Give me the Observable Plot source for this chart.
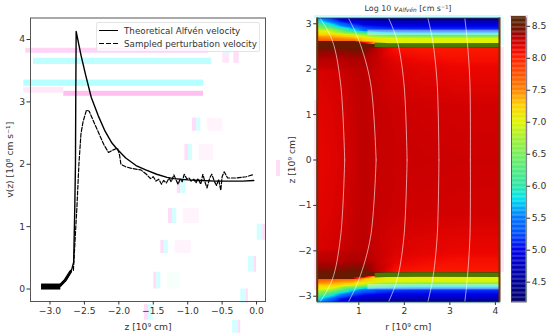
<!DOCTYPE html>
<html><head><meta charset="utf-8">
<script src="https://cdn.jsdelivr.net/npm/d3@7"></script>
<script src="https://cdn.jsdelivr.net/npm/@observablehq/plot@0.6"></script>
<style>
html,body{margin:0;padding:0;background:#fff;width:550px;height:333px;overflow:hidden}
body{position:relative;font-family:"DejaVu Sans",sans-serif;color:#333}
.pane{position:absolute;top:0}
.g{position:absolute}
#title{position:absolute;left:308px;width:200px;top:4px;text-align:center;font-size:7.9px;line-height:10px;white-space:nowrap}
#title sub{font-size:5.8px;vertical-align:-1px;line-height:0}
#legend{position:absolute;left:96px;top:22px;width:164px;height:30px;border:1px solid #e4e4e4;border-radius:2px;background:rgba(255,255,255,.75);font-size:8.75px;color:#333;box-sizing:border-box}
#legend div{position:absolute;left:27px;white-space:nowrap;line-height:10px}
#legend i{position:absolute;left:2px;width:19px;height:0;border-top:1.3px solid #000}
#legend i.d{border-top:none;height:1.3px;background:repeating-linear-gradient(90deg,#000 0 5px,transparent 5px 7px)}
</style></head><body>
<div class="g" style="left:500px;top:17px;width:4px;height:28px;background:#e0ffff"></div>
<div class="g" style="left:500px;top:47px;width:4px;height:225px;background:#ffe6f9"></div>
<div class="g" style="left:526px;top:17px;width:2px;height:138px;background:#ffd4f5"></div>
<div class="g" style="left:526px;top:155px;width:2px;height:147px;background:#d8ffff"></div>
<div class="g" style="left:510px;top:15px;width:18px;height:3px;background:#ffd4f5"></div>
<div class="g" style="left:314px;top:15px;width:187px;height:3px;background:#c4ffff"></div>
<div class="g" style="left:316px;top:301px;width:185px;height:3px;background:#d4ffff"></div>
<div class="g" style="left:314px;top:100px;width:3px;height:190px;background:#ffe6f9"></div>
<div class="g" style="left:276px;top:160px;width:4px;height:16px;background:#ffdcf7"></div>
<div id="left" class="pane" style="left:0"></div>
<div id="heat" class="pane" style="left:283px"></div>
<div id="bar" class="pane" style="left:500px"></div>
<div id="legend"><i style="top:7px"></i><div style="top:3px">Theoretical Alfvén velocity</div><i class="d" style="top:20px"></i><div style="top:15.5px">Sampled perturbation velocity</div></div>
<div id="title">Log 10 <em>v<sub>Alfvén</sub></em> [cm s⁻¹]</div>
<script>
// left panel: velocity profiles
const theoryZ = [-2.85,-2.75,-2.68,-2.656,-2.64,-2.63,-2.625,-2.62,-2.55,-2.48,-2.40,-2.30,-2.20,-2.10,-2.03,-1.90,-1.75,-1.61,-1.45,-1.30,-1.20,-1.00,-0.80,-0.60,-0.40,-0.20,-0.04];
const theoryV = [0.05,0.17,0.33,0.43,1.29,2.0,3.2,4.13,3.75,3.42,3.07,2.78,2.53,2.34,2.25,2.10,1.98,1.91,1.84,1.79,1.77,1.75,1.74,1.73,1.73,1.73,1.74];
const sampledZ = [-2.66,-2.64,-2.61,-2.58,-2.55,-2.52,-2.47,-2.43,-2.38,-2.30,-2.22,-2.15,-2.10,-2.02,-1.99,-1.97,-1.90,-1.80,-1.68,-1.60,-1.54,-1.5,-1.46,-1.42,-1.38,-1.35,-1.31,-1.27,-1.24,-1.2,-1.17,-1.14,-1.11,-1.08,-1.05,-1.01,-0.98,-0.95,-0.91,-0.88,-0.85,-0.81,-0.78,-0.75,-0.72,-0.68,-0.65,-0.61,-0.58,-0.55,-0.52,-0.5,-0.47,-0.42,-0.3,-0.15,-0.06];
const sampledV = [0.3,0.7,1.29,2.0,2.49,2.68,2.87,2.85,2.72,2.52,2.32,2.19,2.22,2.26,2.15,2.00,1.96,1.93,1.91,1.84,1.77,1.80,1.73,1.76,1.68,1.74,1.70,1.78,1.72,1.83,1.75,1.68,1.76,1.72,1.84,1.76,1.78,1.73,1.76,1.70,1.77,1.68,1.84,1.72,1.62,1.78,1.84,1.72,1.66,1.76,1.58,1.8,1.88,1.78,1.78,1.80,1.83];
const floorZ = [-3.13,-2.85], floorV = [0.04,0.04];
const rampZ = [-2.85,-2.78,-2.70], rampV = [0.06,0.14,0.28];
const zTicks = [-3,-2.5,-2,-1.5,-1,-0.5,0];
const vTicks = [0,1,2,3,4];
// faint ghost stripes visible on the left panel
const stripeZ1 = [-3.35,-3.24,-3.38,-2.80,-3.38,-0.49,-0.33,-0.46,-0.93,-0.87,-0.71,-1.04,-0.99,-0.83,-1.15,-1.10,-1.28,-1.22,-1.06,-1.39,-1.34,-1.18,-1.49,-1.45,-1.29,-1.63,-1.57,0.01,0.09,-0.12,-0.03,-0.23,-0.15,-0.35,-0.26];
const stripeZ2 = [-0.70,-0.65,-0.77,-0.77,-2.80,-0.39,-0.25,-0.36,-0.87,-0.81,-0.49,-0.99,-0.93,-0.62,-1.10,-1.03,-1.22,-1.16,-0.83,-1.34,-1.28,-0.95,-1.45,-1.39,-1.10,-1.57,-1.50,0.09,0.13,-0.03,0.00,-0.15,-0.12,-0.26,-0.23];
const stripeV1 = [3.78,3.60,3.25,3.09,3.14,3.62,3.62,3.78,2.53,2.53,2.53,2.06,2.06,2.06,1.53,1.53,1.05,1.05,1.05,0.57,0.57,0.57,0.00,0.00,0.00,-0.50,-0.50,0.78,0.78,0.27,0.27,-0.23,-0.23,-0.71,-0.71];
const stripeV2 = [3.86,3.70,3.35,3.17,3.23,3.82,3.82,3.86,2.74,2.74,2.74,2.32,2.32,2.32,1.77,1.77,1.29,1.29,1.29,0.78,0.78,0.78,0.27,0.27,0.27,-0.25,-0.25,1.04,1.04,0.52,0.52,0.00,0.00,-0.50,-0.50];
const stripeTint = ["#ffd4f6","#c0ffff","#b4ffff","#ffc0f0","#ffe8fa","#ffe6f9","#ffdff8","#d0ffff","#ffdcf7","#d4ffff","#fff4fc","#ffdcf7","#d4ffff","#fff4fc","#ffdcf7","#d4ffff","#ffdcf7","#d4ffff","#fff4fc","#ffdcf7","#d4ffff","#fff4fc","#ffdcf7","#d4ffff","#f6fffa","#ffdcf7","#d4ffff","#d4ffff","#ffdcf7","#d4ffff","#ffdcf7","#d4ffff","#ffdcf7","#d4ffff","#ffdcf7"];

// right panel: log10 Alfvén speed
const gridR = [0.086,0.35,0.6,0.85,1.1,1.4,1.8,2.4,3.2,4.09];
const gridZ = [3.127,3.05,2.95,2.85,2.75,2.68,2.63,2.615,2.57,2.555,2.47,2.46,2.2,2.05,1.95,1.2,0];
const gridV = [
 [5.6,5.2,4.9,4.7,4.5,4.4,4.35,4.3,4.3,4.3],
 [5.9,5.5,5.1,4.9,4.8,4.75,4.7,4.7,4.7,4.7],
 [6.5,6.1,5.6,5.3,5.1,5.05,5.0,5.0,5.0,5.0],
 [7.0,6.9,6.4,5.9,5.5,5.3,5.25,5.2,5.2,5.2],
 [7.3,7.3,7.2,7.1,6.8,6.5,6.3,6.2,6.2,6.2],
 [7.55,7.5,7.45,7.4,7.2,7.05,6.98,6.95,6.95,6.95],
 [7.7,7.7,7.6,7.6,7.3,7.1,7.02,7.0,7.0,7.0],
 [8.5,8.5,8.5,8.5,7.4,7.1,7.02,7.0,7.0,7.0],
 [8.5,8.5,8.5,8.5,8.5,7.1,7.0,7.0,7.0,7.0],
 [8.5,8.5,8.5,8.5,8.5,8.5,8.5,8.5,8.5,8.5],
 [8.48,8.48,8.48,8.5,8.5,8.5,8.5,8.5,8.5,8.5],
 [8.44,8.44,8.44,8.46,8.46,8.3,8.06,8.03,8.03,8.03],
 [8.3,8.3,8.3,8.33,8.33,8.27,8.16,8.11,8.08,8.08],
 [8.27,8.28,8.29,8.31,8.32,8.27,8.19,8.16,8.13,8.13],
 [8.2,8.22,8.25,8.28,8.3,8.26,8.2,8.17,8.14,8.14],
 [8.17,8.19,8.22,8.26,8.29,8.27,8.25,8.24,8.23,8.23],
 [8.15,8.17,8.2,8.25,8.29,8.27,8.26,8.26,8.25,8.25]
];
const bandR = [1.35,1.6,2.4,4.09], bandZ = [2.54,2.525,2.52,2.525];
const paleR = [1.2,4.09], paleZ = [2.74,2.86];
const fieldZ = [3.11,2.64,1.7,0];
const fieldR = [
 [0.158,0.415,0.598,0.69],
 [0.78,1.0,1.257,1.38],
 [1.66,1.84,1.99,2.06],
 [2.52,2.62,2.72,2.76],
 [3.33,3.38,3.44,3.45]
];
const rTicks = [1,2,3,4];
const hTicks = [-3,-2,-1,0,1,2,3];
const rExtent = [0.086,4.09], hExtent = [-3.127,3.127];

// colour bar
const barTicks = [4.5,5,5.5,6,6.5,7,7.5,8,8.5];
const barExtent = [4.19,8.63];
const cmapV = [4.19,4.5,5.0,5.25,5.5,5.8,6.0,6.5,6.75,7.0,7.25,7.5,7.75,8.0,8.12,8.25,8.35,8.45,8.63];
const cmapC = ["#00006e","#000096","#0000eb","#0050ff","#0078ff","#00e6f0","#30e6a6","#78f05a","#a8f030","#e1f500","#ffd000","#ff8200","#ff5000","#ff1e00","#ef0600","#cd0000","#a80000","#6e1400","#5a2800"];

const font = {fontFamily:"DejaVu Sans",fontSize:"9.2px",color:"#333",background:"transparent",overflow:"visible"};
const table = (...c) => c[0].map((_,i)=>c.map(a=>a[i]));
const color = {type:"linear",domain:cmapV,range:cmapC,interpolate:d3.interpolateRgb,clamp:true};
const fmt1 = d3.format(".1f");

const stripes = table(stripeZ1,stripeZ2,stripeV1,stripeV2,stripeTint);
const leftPlot = Plot.plot({
  width:280,height:333,marginLeft:30,marginRight:15,marginTop:17.5,marginBottom:32,style:font,
  x:{domain:[-3.283,0.13]},y:{domain:[-0.2,4.345]},
  marks:[
    Plot.rect(stripes,{x1:d=>d[0],x2:d=>d[1],y1:d=>d[2],y2:d=>d[3],fill:d=>d[4]}),
    Plot.frame({stroke:"#555",strokeWidth:1}),
    Plot.axisX({ticks:zTicks,tickFormat:fmt1,tickSize:3.5,tickPadding:2,label:"z [10⁹ cm]",labelAnchor:"center",labelArrow:"none",labelOffset:28,fill:"#333"}),
    Plot.axisY({ticks:vTicks,tickFormat:d3.format("d"),tickSize:3.5,tickPadding:2,label:"v(z) [10⁸ cm s⁻¹]",labelAnchor:"center",labelArrow:"none",labelOffset:24,fill:"#333"}),
    Plot.line(table(floorZ,floorV),{x:d=>d[0],y:d=>d[1],stroke:"#000",strokeWidth:6,strokeLinecap:"butt"}),
    Plot.line(table(rampZ,rampV),{x:d=>d[0],y:d=>d[1],stroke:"#000",strokeWidth:3}),
    Plot.line(table(sampledZ,sampledV),{x:d=>d[0],y:d=>d[1],stroke:"#000",strokeWidth:1.2,strokeDasharray:"4,1.8"}),
    Plot.line(table(theoryZ,theoryV),{x:d=>d[0],y:d=>d[1],stroke:"#000",strokeWidth:1.4})
  ]
});
document.getElementById("left").append(leftPlot);

const cells = gridZ.flatMap((z,i)=>gridR.flatMap((r,j)=>{
  const v = gridV[i][j];
  return z===0 ? [{r,z,v}] : [{r,z,v},{r,z:-z,v}];
}));
const fieldLines = fieldR.flatMap((rs,k)=>rs.map((r,i)=>({k,r,z:fieldZ[i]})).concat(rs.map((r,i)=>({k:k+10,r,z:-fieldZ[i]}))));
const bandPts = table(bandR,bandZ);
const heatPlot = Plot.plot({
  width:221,height:333,marginLeft:33.7,marginRight:5,marginTop:17.5,marginBottom:31.5,style:font,
  x:{domain:rExtent},y:{domain:hExtent},color,
  marks:[
    Plot.raster(cells,{x:"r",y:"z",fill:"v",interpolate:"barycentric",pixelSize:1}),
    Plot.rect([1,-1],{x1:paleR[0],x2:paleR[1],y1:d=>d*paleZ[0],y2:d=>d*paleZ[1],fill:"#fff",fillOpacity:.4}),
    Plot.line(bandPts,{x:d=>d[0],y:d=>d[1],stroke:"#4a7a00",strokeWidth:4.5,strokeLinecap:"butt"}),
    Plot.line(bandPts,{x:d=>d[0],y:d=>-d[1],stroke:"#4a7a00",strokeWidth:4.5,strokeLinecap:"butt"}),
    Plot.line(fieldLines,{x:"r",y:"z",z:"k",stroke:"#fff",strokeOpacity:.6,strokeWidth:1,curve:"catmull-rom"}),
    Plot.ruleX(rExtent,{stroke:"#6b2e00",strokeWidth:2}),
    Plot.axisX({ticks:rTicks,tickFormat:d3.format("d"),tickSize:3.5,tickPadding:2,label:"r [10⁹ cm]",labelAnchor:"center",labelArrow:"none",labelOffset:28,fill:"#333"}),
    Plot.axisY({ticks:hTicks,tickFormat:d3.format("d"),tickSize:3.5,tickPadding:2,label:"z [10⁹ cm]",labelAnchor:"center",labelArrow:"none",labelOffset:29,fill:"#333"}),
    Plot.frame({stroke:"#444",strokeWidth:.8})
  ]
});
document.getElementById("heat").append(heatPlot);

const barCells = d3.range(barExtent[0],barExtent[1],0.02);
const barPlot = Plot.plot({
  width:50,height:333,marginLeft:11,marginRight:24.3,marginTop:17.5,marginBottom:31.5,style:font,
  x:{domain:[0,1],axis:null},y:{domain:barExtent},color,
  marks:[
    Plot.rect(barCells,{x1:0,x2:1,y1:d=>d,y2:d=>d+0.022,fill:d=>d}),
    Plot.axisY({anchor:"right",ticks:barTicks,tickFormat:fmt1,tickSize:3.5,tickPadding:2,label:null,fill:"#333"}),
    Plot.frame({stroke:"#444",strokeWidth:.8})
  ]
});
document.getElementById("bar").append(barPlot);
</script>
</body></html>
